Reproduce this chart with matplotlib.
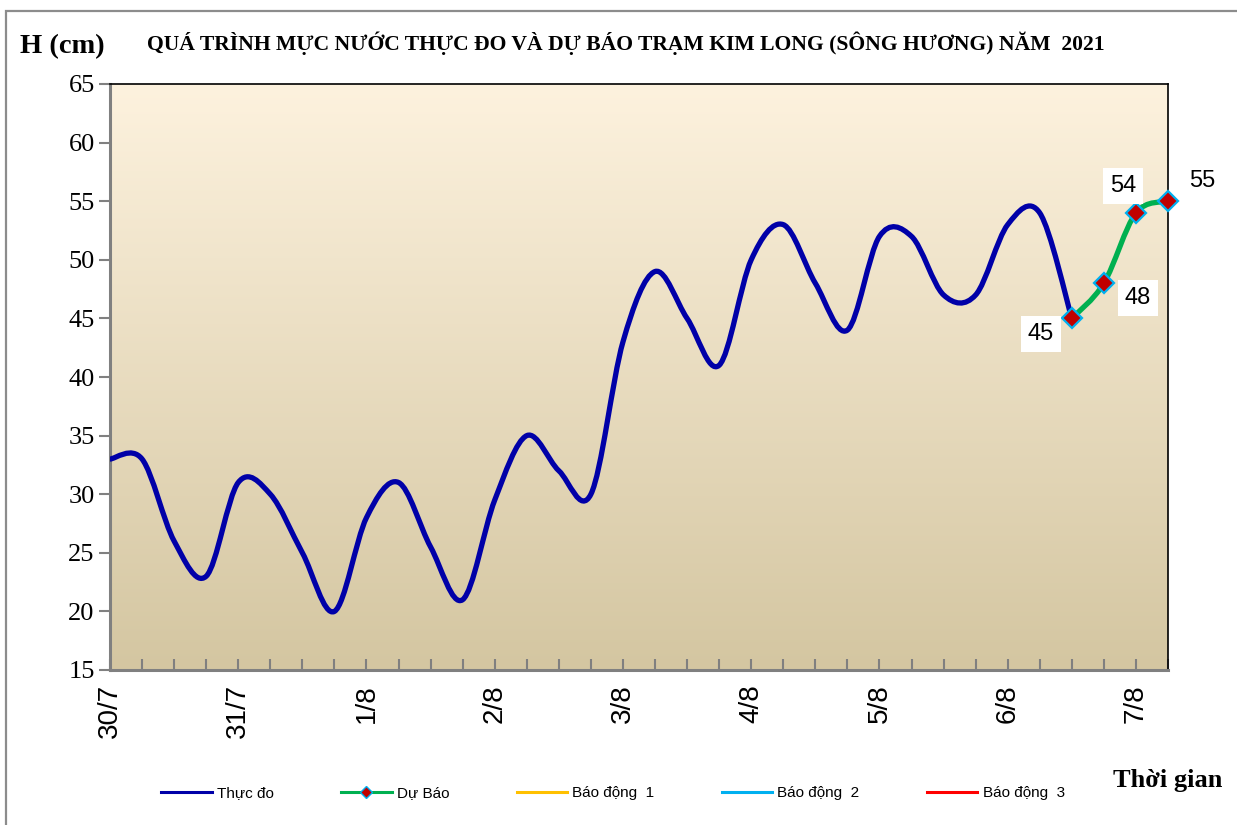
import matplotlib
matplotlib.use("Agg")
import matplotlib.pyplot as plt
import numpy as np
from matplotlib.path import Path
from matplotlib.patches import PathPatch, Rectangle
from matplotlib.lines import Line2D

# ---------------- data ----------------
# 6-hourly steps starting 30/7 00h
observed = [33, 33, 26, 23, 31, 30, 25, 20, 28, 31, 25.5, 21, 29.5, 35, 32, 30,
            43, 49, 45, 41, 50, 53, 48, 44, 52, 52, 47, 47, 53, 54, 45]
forecast = [45, 48, 54, 55]
forecast_start = 30
day_labels = ["30/7", "31/7", "1/8", "2/8", "3/8", "4/8", "5/8", "6/8", "7/8"]
steps_per_day = 4
alarm_levels = [100, 200, 350]   # Báo động 1, 2, 3 (off-scale)
alarm_names = ["Báo động  1", "Báo động  2", "Báo động  3"]
alarm_colors = ["#FFC000", "#00B0F0", "#FF0000"]

title = "QUÁ TRÌNH MỰC NƯỚC THỰC ĐO VÀ DỰ BÁO TRẠM KIM LONG (SÔNG HƯƠNG) NĂM  2021"

SERIF = "Liberation Serif"
SANS = "Liberation Sans"

W, H = 1237, 825
fig = plt.figure(figsize=(W / 100, H / 100), dpi=100)
ax = fig.add_axes([110 / W, 1 - 670 / H, (1168 - 110) / W, (670 - 84) / H])

n_obs = len(observed)
x_obs = np.arange(n_obs)
x_fc = np.arange(forecast_start, forecast_start + len(forecast))
x_max = x_fc[-1]


def smooth_path(xs, ys):
    xs = np.asarray(xs, float)
    ys = np.asarray(ys, float)
    pts = np.column_stack([xs, ys])
    verts = [pts[0]]
    codes = [Path.MOVETO]
    n = len(pts)
    for i in range(n - 1):
        p_prev = pts[i - 1] if i > 0 else pts[i]
        p0 = pts[i]
        p1 = pts[i + 1]
        p_next = pts[i + 2] if i + 2 < n else pts[i + 1]
        c1 = p0 + (p1 - p_prev) / 6.0
        c2 = p1 - (p_next - p0) / 6.0
        verts += [c1, c2, p1]
        codes += [Path.CURVE4] * 3
    return Path(verts, codes)


# background gradient
grad = np.linspace(0, 1, 256).reshape(-1, 1)
top = np.array([253, 242, 222]) / 255
bot = np.array([212, 198, 161]) / 255
img = top[None, None, :] * (1 - grad[:, :, None]) + bot[None, None, :] * grad[:, :, None]
ax.imshow(img, extent=[0, x_max, 15, 65], aspect="auto", zorder=0, origin="upper")

# alarm lines (off the visible range)
for lvl, c in zip(alarm_levels, alarm_colors):
    ax.plot([0, x_max], [lvl, lvl], color=c, lw=2)

# observed
ax.add_patch(PathPatch(smooth_path(x_obs, observed), fill=False,
                       edgecolor="#0000A8", lw=3.8, zorder=3, capstyle="round",
                       joinstyle="round"))
# forecast
ax.add_patch(PathPatch(smooth_path(x_fc, forecast), fill=False,
                       edgecolor="#00B050", lw=3.8, zorder=4, capstyle="round"))
ax.plot(x_fc, forecast, ls="none", marker="D", ms=10, mfc="#C00000",
        mec="#00B0F0", mew=1.6, zorder=5, clip_on=False)

# data labels
offsets = [(-31, -16), (34, -15), (-13, 27), (34, 20)]
for xv, yv, (dx, dy) in zip(x_fc, forecast, offsets):
    box = dict(boxstyle="square,pad=0.3", fc="white", ec="none") if xv != x_max else None
    ax.annotate(f"{yv:g}", (xv, yv), xytext=(dx, dy), textcoords="offset pixels",
                ha="center", va="center", fontsize=17, family=SANS,
                bbox=box, zorder=6, annotation_clip=False)

ax.set_xlim(0, x_max)
ax.set_ylim(15, 65)

ax.set_yticks(np.arange(15, 66, 5))
ax.set_yticklabels([str(v) for v in range(15, 66, 5)], family=SERIF, fontsize=19)
ax.tick_params(axis="y", direction="out", length=8, width=1.5, color="#808080", pad=3)

major = np.arange(0, steps_per_day * (len(day_labels) - 1) + 1, steps_per_day)
ax.set_xticks(major)
ax.set_xticklabels(day_labels, rotation=90, family=SANS, fontsize=20)
ax.set_xticks(np.arange(0, x_max + 1), minor=True)
ax.tick_params(axis="x", which="both", direction="in", length=8, width=1.5,
               color="#808080", pad=10)

for s in ["left", "bottom"]:
    ax.spines[s].set_color("#808080")
    ax.spines[s].set_linewidth(2.2)
for s in ["top", "right"]:
    ax.spines[s].set_color("black")
    ax.spines[s].set_linewidth(1.2)

fig.text(626 / W, 1 - 43 / H, title, ha="center", va="center",
         family=SERIF, fontweight="bold", fontsize=15.6)
fig.text(20 / W, 1 - 47 / H, "H (cm)", ha="left", va="center",
         family=SERIF, fontweight="bold", fontsize=20.5)
fig.text(1222 / W, 1 - 780 / H, "Thời gian", ha="right", va="center",
         family=SERIF, fontweight="bold", fontsize=19)

# legend
handles = [Line2D([], [], color="#0000A8", lw=2.2),
           Line2D([], [], color="#00B050", lw=2.2, marker="D", ms=6,
                  mfc="#C00000", mec="#00B0F0", mew=1)]
handles += [Line2D([], [], color=c, lw=2.2) for c in alarm_colors]
labels = ["Thực đo", "Dự Báo"] + alarm_names
fig.legend(handles, labels, loc="center", bbox_to_anchor=(613 / W, 1 - 793 / H),
           ncol=5, frameon=False, prop={"family": SANS, "size": 11},
           handlelength=3.3, handletextpad=0.35, columnspacing=4.4)

# outer frame
fig.add_artist(Rectangle((6 / W, -0.01), 1.02, 1 - 11 / H + 0.01,
                         transform=fig.transFigure, fill=False,
                         ec="#8C8C8C", lw=1.6))

fig.savefig("out.png", dpi=100)
